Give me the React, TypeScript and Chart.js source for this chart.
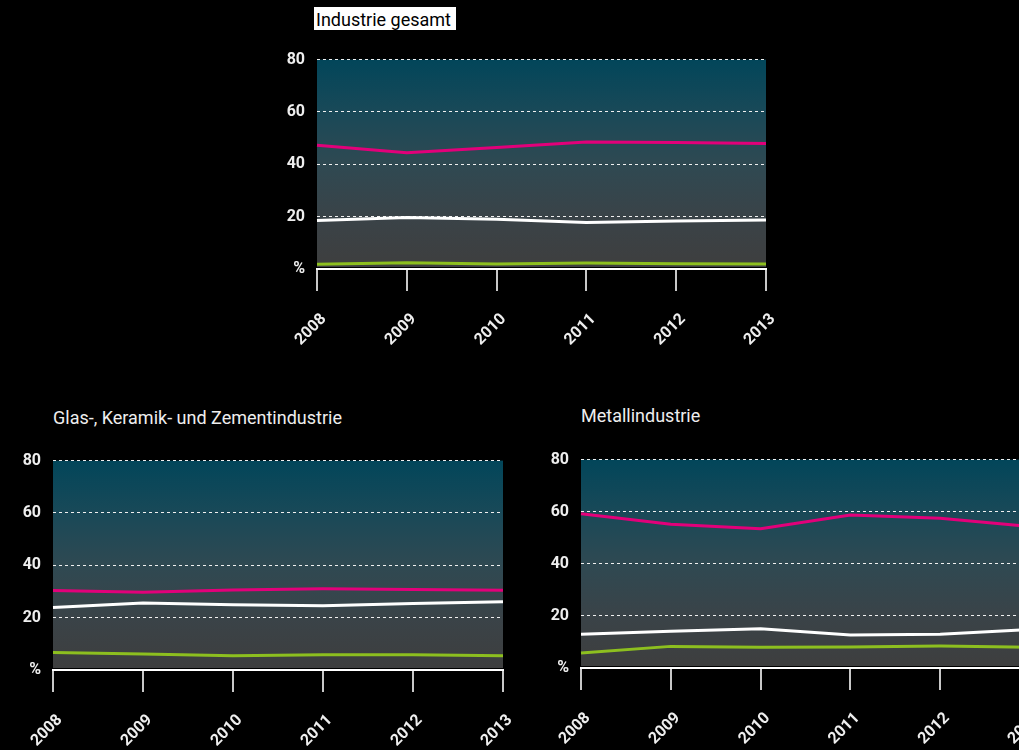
import React, { useEffect, useRef } from 'react';
import { Chart, registerables } from 'chart.js';

Chart.register(...registerables);

// ---- data ----
const years = ['2008', '2009', '2010', '2011', '2012', '2013'];
const yTickValues = [0, 20, 40, 60, 80];
const yTickLabels = ['%', '20', '40', '60', '80'];

const titleGesamt = 'Industrie gesamt';
const titleGlas = 'Glas-, Keramik- und Zementindustrie';
const titleMetall = 'Metallindustrie';

const gesamtPink = [47.3, 44.4, 46.4, 48.5, 48.3, 47.9];
const gesamtWhite = [18.5, 19.7, 19.0, 17.8, 18.3, 18.7];
const gesamtGreen = [1.8, 2.4, 1.9, 2.3, 2.0, 1.9];

const glasPink = [30.4, 29.7, 30.6, 31.0, 30.8, 30.5];
const glasWhite = [23.9, 25.6, 24.9, 24.5, 25.4, 26.1];
const glasGreen = [6.7, 6.1, 5.4, 5.8, 5.8, 5.4];

const metallPink = [59.2, 55.2, 53.5, 58.7, 57.5, 54.3];
const metallWhite = [13.0, 14.1, 15.1, 12.7, 13.0, 14.8];
const metallGreen = [5.8, 8.3, 8.0, 8.1, 8.4, 8.0];

// ---- style ----
const PINK = '#e2007a';
const WHITE = '#ffffff';
const GREEN = '#8dbf1f';
const FONT = 'Roboto, "DejaVu Sans", sans-serif';

const PADL = 70;
const PADR = 60;
const PADT = 20;
const PADB = 100;

const bgPlugin = {
  id: 'bgGradient',
  beforeDraw(chart: any) {
    const { ctx, chartArea } = chart;
    if (!chartArea) return;
    const { left, right, top, bottom } = chartArea;
    const g = ctx.createLinearGradient(0, top, 0, bottom);
    g.addColorStop(0, '#02465a');
    g.addColorStop(0.25, '#194958');
    g.addColorStop(0.5, '#2f4952');
    g.addColorStop(0.75, '#3a4348');
    g.addColorStop(1, '#3e3e3e');
    ctx.save();
    ctx.fillStyle = g;
    ctx.fillRect(left, top, right - left, bottom - top - 2);
    ctx.restore();
  },
};

type PanelProps = {
  pink: number[];
  white: number[];
  green: number[];
  L: number;
  R: number;
  T: number;
  B: number;
};

function Panel({ pink, white, green, L, R, T, B }: PanelProps) {
  const ref = useRef<HTMLCanvasElement | null>(null);
  const W = R - L + PADL + PADR;
  const H = B - T + PADT + PADB;

  useEffect(() => {
    if (!ref.current) return;
    const tickFont = { family: FONT, size: 16, weight: 'bold' as any };
    const chart = new Chart(ref.current, {
      type: 'line',
      data: {
        labels: years,
        datasets: [
          { label: 'green', data: green, borderColor: GREEN, borderWidth: 3, pointRadius: 0, tension: 0, fill: false },
          { label: 'white', data: white, borderColor: WHITE, borderWidth: 3, pointRadius: 0, tension: 0, fill: false },
          { label: 'pink', data: pink, borderColor: PINK, borderWidth: 3, pointRadius: 0, tension: 0, fill: false },
        ],
      },
      options: {
        animation: false,
        responsive: false,
        devicePixelRatio: 1,
        layout: { padding: { left: 0, top: PADT, right: PADR, bottom: 0 } },
        plugins: { legend: { display: false }, tooltip: { enabled: false } },
        scales: {
          x: {
            offset: false,
            grid: { drawOnChartArea: false, drawTicks: true, tickLength: 22, color: '#c8c8c8', lineWidth: 2 },
            border: { display: true, color: '#ffffff', width: 2 },
            ticks: {
              color: '#eeeeee',
              font: tickFont,
              maxRotation: 45,
              minRotation: 45,
              autoSkip: false,
              padding: 19,
              labelOffset: 7,
            },
            afterFit: (s: any) => {
              s.height = PADB;
            },
          },
          y: {
            min: 0,
            max: 80,
            afterBuildTicks: (s: any) => {
              s.ticks = yTickValues.map((v) => ({ value: v }));
            },
            grid: { color: '#f0f0f0', lineWidth: 1, drawTicks: false },
            border: { display: false, dash: [3, 3] },
            ticks: {
              color: '#eeeeee',
              font: tickFont,
              padding: 12,
              callback: (v: any) => {
                const i = yTickValues.indexOf(Number(v));
                return i >= 0 ? yTickLabels[i] : '';
              },
            },
            afterFit: (s: any) => {
              s.width = PADL;
            },
          },
        },
      } as any,
      plugins: [bgPlugin],
    });
    return () => chart.destroy();
  }, [pink, white, green, W, H]);

  return (
    <canvas
      ref={ref}
      width={W}
      height={H}
      style={{ position: 'absolute', left: L - PADL, top: T - PADT, width: W, height: H, display: 'block' }}
    />
  );
}

export default function App() {
  return (
    <div
      style={{
        position: 'fixed',
        left: 0,
        top: 0,
        width: '100vw',
        height: '100vh',
        background: '#000',
        overflow: 'hidden',
        fontFamily: FONT,
      }}
    >
      <div
        style={{
          position: 'absolute',
          left: 314,
          top: 7,
          width: 142,
          height: 23,
          boxSizing: 'border-box',
          background: '#fff',
          color: '#000',
          fontSize: 18,
          lineHeight: '20px',
          padding: '3px 0 0 2px',
          whiteSpace: 'nowrap',
        }}
      >
        {titleGesamt}
      </div>
      <div
        style={{
          position: 'absolute',
          left: 53,
          top: 408,
          color: '#eeeeee',
          fontSize: 18,
          lineHeight: '20px',
          whiteSpace: 'nowrap',
        }}
      >
        {titleGlas}
      </div>
      <div
        style={{
          position: 'absolute',
          left: 581,
          top: 406,
          color: '#eeeeee',
          fontSize: 18,
          lineHeight: '20px',
          whiteSpace: 'nowrap',
        }}
      >
        {titleMetall}
      </div>
      <Panel pink={gesamtPink} white={gesamtWhite} green={gesamtGreen} L={317} R={766} T={58} B={269} />
      <Panel pink={glasPink} white={glasWhite} green={glasGreen} L={53} R={503} T={459} B={670} />
      <Panel pink={metallPink} white={metallWhite} green={metallGreen} L={581} R={1030} T={458} B={668} />
    </div>
  );
}
